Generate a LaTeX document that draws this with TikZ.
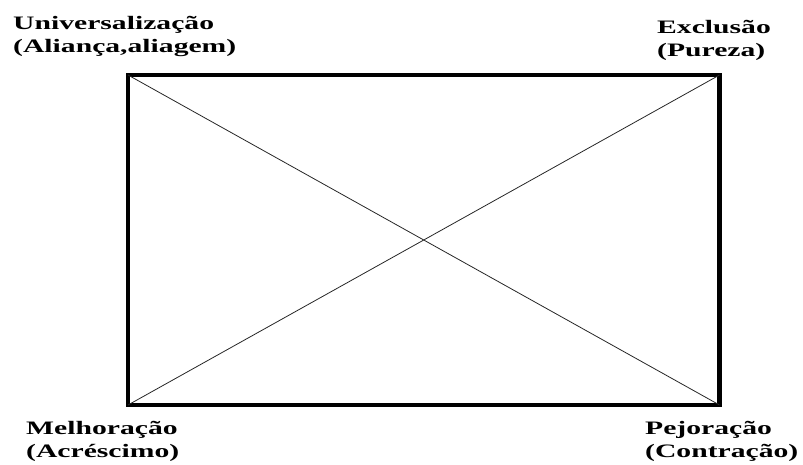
\documentclass[tikz,border=0pt]{standalone}
\usepackage{fontspec}
\setmainfont{Liberation Serif}
\newfontfamily\quadfont[FakeStretch=1.56]{Liberation Serif}
\usetikzlibrary{positioning}
\tikzset{
  cornerlabel/.style={
    align=left,
    inner sep=0pt,
    font=\quadfont\bfseries\fontsize{19}{23}\selectfont
  },
  frameline/.style={line width=4.5pt, draw=black},
  crossline/.style={line width=0.8pt, draw=black!85}
}

\begin{document}
\begin{tikzpicture}[x=1pt, y=-1pt]
\useasboundingbox (0,0) rectangle (803,464);
\coordinate (tl) at (128,75);
\coordinate (tr) at (719.5,75);
\coordinate (bl) at (128,405);
\coordinate (br) at (719.5,405);
\draw[frameline] (tl) rectangle (br);
\draw[crossline] (tl) -- (br);
\draw[crossline] (bl) -- (tr);
% anchors sit on the baseline of the second line
\node[cornerlabel, anchor=base west] (univ) at (13,52.5) {Universalização\\(Aliança,aliagem)};
\node[cornerlabel, anchor=base west] (excl) at (657,56.5) {Exclusão\\(Pureza)};
\node[cornerlabel, anchor=base west] (melh) at (26,457) {Melhoração\\(Acréscimo)};
\node[cornerlabel, anchor=base west] (pejo) at (645,457) {Pejoração\\(Contração)};
\end{tikzpicture}
\end{document}
